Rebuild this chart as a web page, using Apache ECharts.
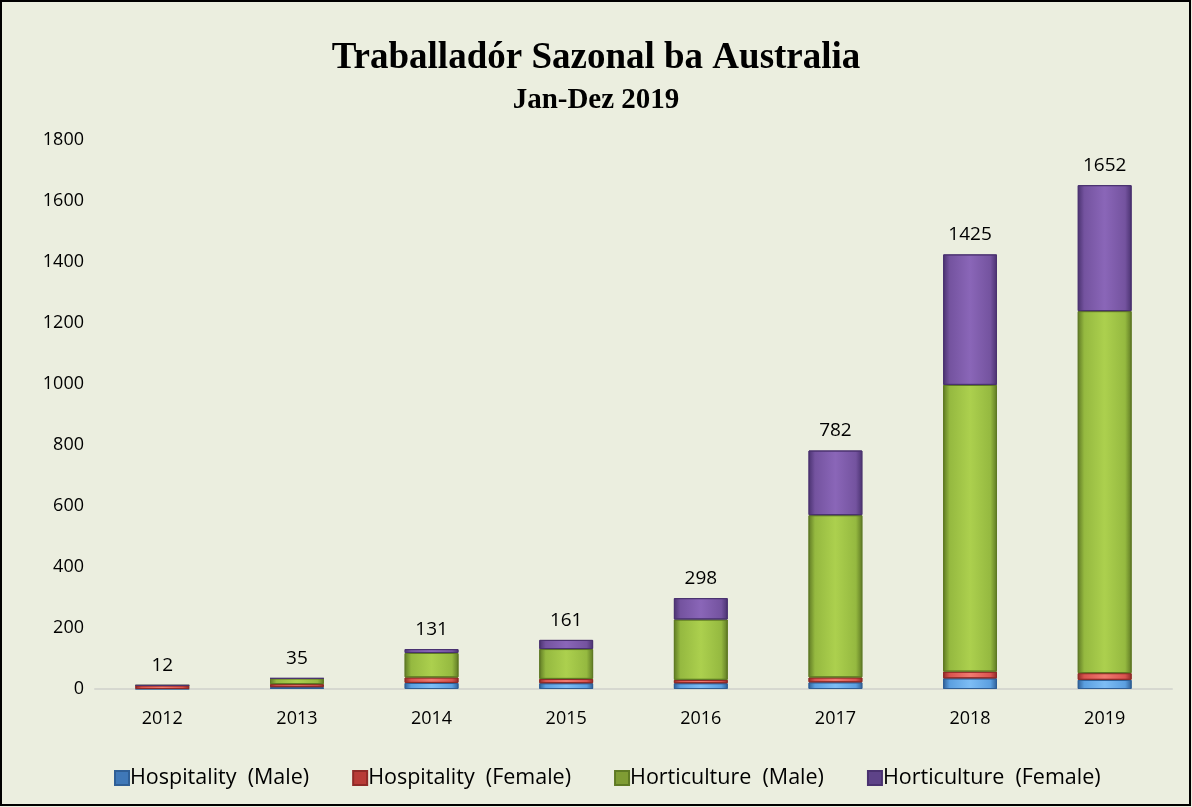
<!DOCTYPE html>
<html>
<head>
<meta charset="utf-8">
<script src="https://cdn.jsdelivr.net/npm/echarts@6/dist/echarts.min.js"></script>
<style>
  html, body { margin: 0; padding: 0; background: #ffffff; }
  #chart-container { width: 1192px; height: 807px; }
</style>
</head>
<body>
<div id="chart-container"></div>
<script>
var dom = document.getElementById("chart-container");
var myChart = echarts.init(dom, null, { renderer: "canvas" });

const years = ["2012", "2013", "2014", "2015", "2016", "2017", "2018", "2019"];
const hospMale = [0, 6, 20, 19, 19, 22, 35, 30];
const hospFemale = [12, 10, 18, 14, 11, 16, 22, 22];
const hortMale = [0, 19, 80, 98, 198, 532, 940, 1187];
const hortFemale = [0, 0, 13, 30, 70, 212, 428, 413];
const totals = [12, 35, 131, 161, 298, 782, 1425, 1652];

const font = "'Open Sans', 'Liberation Sans', sans-serif";

function bevel(light, mid, dark) {
  return new echarts.graphic.LinearGradient(0, 0, 1, 0, [
    { offset: 0, color: dark },
    { offset: 0.12, color: mid },
    { offset: 0.5, color: light },
    { offset: 0.88, color: mid },
    { offset: 1, color: dark },
  ]);
}

const styles = [
  { name: "Hospitality  (Male)", data: hospMale, c: ["#7dbdf5", "#5b9fe0", "#2f5f96"], legend: "#3f78b8" },
  { name: "Hospitality  (Female)", data: hospFemale, c: ["#f07a70", "#d9534f", "#8f2a27"], legend: "#b83b37" },
  { name: "Horticulture  (Male)", data: hortMale, c: ["#acd04e", "#95b940", "#5f7a24"], legend: "#7f9c34" },
  { name: "Horticulture  (Female)", data: hortFemale, c: ["#8a66b8", "#74539f", "#4a3270"], legend: "#5e4388" },
];

const series = styles.map(function (s) {
  return {
    name: s.name,
    type: "bar",
    stack: "total",
    barWidth: "40%",
    data: s.data,
    itemStyle: {
      color: bevel(s.c[0], s.c[1], s.c[2]),
      borderColor: s.c[2],
      borderWidth: 1,
    },
  };
});

series.push({
  name: "total",
  type: "bar",
  stack: "total",
  barWidth: "40%",
  data: totals.map(function () { return 0; }),
  itemStyle: { color: "transparent" },
  label: {
    show: true,
    position: "top",
    distance: 10,
    color: "#000",
    fontSize: 19,
    fontFamily: font,
    formatter: function (p) { return totals[p.dataIndex]; },
  },
  tooltip: { show: false },
});

var option = {
  backgroundColor: "#ebeedf",
  title: [
    {
      text: "Traballadór Sazonal ba Australia",
      left: "center",
      top: 35,
      textStyle: { fontFamily: "'Liberation Serif', serif", fontSize: 37, fontWeight: "bold", color: "#000" },
    },
    {
      text: "Jan-Dez 2019",
      left: "center",
      top: 81,
      textStyle: { fontFamily: "'Liberation Serif', serif", fontSize: 29, fontWeight: "bold", color: "#000" },
    },
  ],
  legend: {
    top: 762,
    left: 109,
    itemWidth: 14,
    itemHeight: 14,
    itemGap: 43,
    icon: "rect",
    data: styles.map(function (s) {
      return { name: s.name, itemStyle: { color: s.legend } };
    }),
    textStyle: { fontFamily: font, fontSize: 21.5, color: "#000", padding: [0, 0, 0, -4] },
  },
  grid: { left: 95, right: 20, top: 140, bottom: 118 },
  xAxis: {
    type: "category",
    data: years,
    axisLine: { lineStyle: { color: "#d6d8d0", width: 2 } },
    axisTick: { show: false },
    axisLabel: { color: "#000", fontSize: 18, fontFamily: font, margin: 21 },
  },
  yAxis: {
    type: "value",
    min: 0,
    max: 1800,
    interval: 200,
    axisLine: { show: false },
    axisTick: { show: false },
    splitLine: { show: false },
    axisLabel: {
      color: "#000",
      fontSize: 18,
      fontFamily: font,
      margin: 11,
      formatter: function (v) { return String(v); },
    },
  },
  graphic: [
    {
      type: "rect",
      shape: { x: 1, y: 1, width: 1189, height: 804 },
      style: { fill: "none", stroke: "#000", lineWidth: 2 },
      silent: true,
    },
  ],
  series: series,
};

myChart.setOption(option);
window.addEventListener("resize", myChart.resize);
</script>
</body>
</html>
